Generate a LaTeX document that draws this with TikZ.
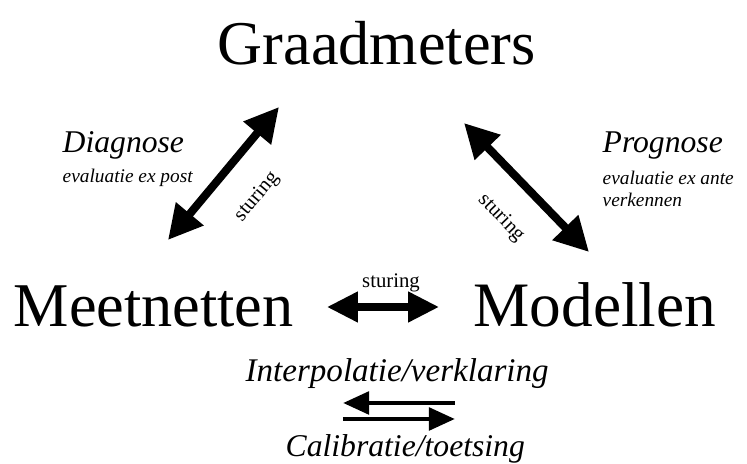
\documentclass[tikz,border=0pt]{standalone}
\usepackage{fontspec}
\setmainfont{Liberation Serif}
\usepackage{tikz}
\usetikzlibrary{arrows.meta}
\newcommand{\fs}[1]{\fontsize{#1}{1.15\dimexpr#1pt\relax}\selectfont}

\begin{document}
\begin{tikzpicture}[x=0.01cm,y=-0.01cm,
    big/.style={inner sep=0pt,font=\fs{17.7}},
    lbl/.style={inner sep=0pt,font=\fs{9}\itshape},
    sub/.style={inner sep=0pt,font=\fs{5.5}\itshape,align=left},
    stur/.style={inner sep=0pt,font=\fs{5.9}},
    fat/.style={{Triangle[length=9.7pt,width=9.7pt]}-{Triangle[length=9.7pt,width=9.7pt]},line width=2.3pt},
    mid/.style={{Triangle[length=8.8pt,width=8.3pt]}-{Triangle[length=8.8pt,width=8.3pt]},line width=2pt},
    thin/.style={-{Triangle[length=7.4pt,width=6.3pt]},line width=1.4pt}]
    \useasboundingbox (0,0) rectangle (747,464);
    % hoofdbegrippen
    \node[big,anchor=base west] (graad) at (217,65) {Graadmeters};
    \node[big,anchor=base west] (meet) at (13,327) {Meetnetten};
    \node[big,font=\fs{18},anchor=base west] (model) at (473,327) {Modellen};
    % toelichting
    \node[lbl,anchor=base west] (diag) at (62,153) {Diagnose};
    \node[sub,anchor=base west] (diagsub) at (62,183) {evaluatie ex post};
    \node[lbl,anchor=base west] (prog) at (602,153) {Prognose};
    \node[sub,anchor=base west] (progsub) at (602,185) {evaluatie ex ante};
    \node[sub,anchor=base west] (progsub2) at (602,207) {verkennen};
    \node[lbl,font=\fs{9.4}\itshape,anchor=base west] (interp) at (245,382) {Interpolatie/verklaring};
    \node[lbl,anchor=base west] (calib) at (285,457) {Calibratie/toetsing};
    % pijlen
    \coordinate (dl) at (168,240); \coordinate (du) at (279,107);
    \coordinate (pu) at (464,123); \coordinate (pl) at (589,252);
    \coordinate (hl) at (327,307); \coordinate (hr) at (439,307);
    \coordinate (ia) at (455,403); \coordinate (ib) at (343,403);
    \coordinate (ca) at (343,419); \coordinate (cb) at (455,419);
    \draw[fat] (dl) -- (du);
    \draw[fat] (pu) -- (pl);
    \draw[mid] (hl) -- (hr);
    \draw[thin] (ia) -- (ib);
    \draw[thin] (ca) -- (cb);
    \node[stur,rotate=50] (stl) at (257,197) {sturing};
    \node[stur,rotate=-46] (str) at (501,218) {sturing};
    \node[stur,anchor=base] (stm) at (391,288) {sturing};
\end{tikzpicture}
\end{document}
